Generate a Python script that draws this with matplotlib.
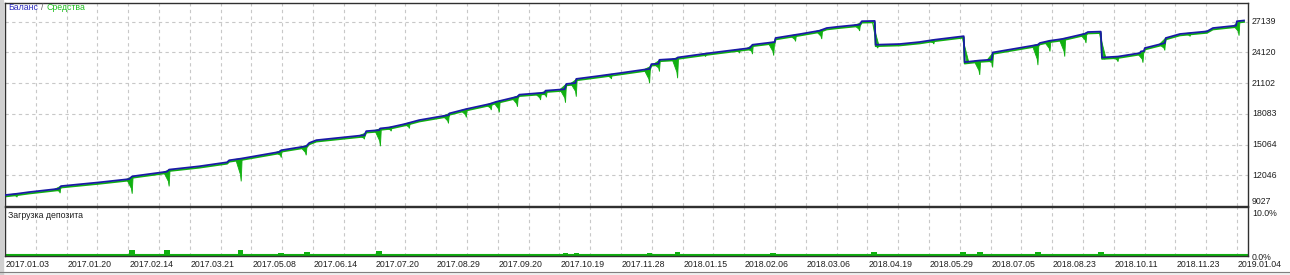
import numpy as np
import matplotlib
matplotlib.use('Agg')
import matplotlib.pyplot as plt
import matplotlib.transforms as mtransforms

plt.rcParams['font.family'] = ['Liberation Sans', 'DejaVu Sans']

# balance curve: trade number -> balance
bal_x = [0, 3.9, 7.8, 17.5, 18.2, 30.5, 40.3, 41.3, 52.6, 53.3, 63.0, 72.1, 72.8, 76.7,
         89.0, 89.7, 97.8, 98.8, 101.1, 116.7, 117.3, 121.5, 121.8, 124.8, 129.7, 134.5,
         144.0, 144.3, 149.8, 157.3, 159.6, 166.4, 167.0, 175.2, 175.5, 181.7, 182.3,
         185.2, 185.5, 193.0, 199.5, 209.3, 209.9, 212.2, 212.5, 218.0, 218.4, 228.8,
         241.8, 242.7, 249.9, 250.2, 258.0, 264.5, 266.8, 270.9, 277.5, 278.2, 282.4,
         282.7, 290.5, 297.0, 301.9, 311.3, 311.6, 316.5, 320.4, 320.7, 335.4, 336.0,
         339.3, 343.2, 350.7, 351.6, 355.8, 356.2, 361.4, 368.5, 368.8, 369.8, 370.1,
         376.6, 376.9, 381.5, 390.3, 392.2, 399.7, 400.0, 402.3]
bal_y = [10100, 10230, 10390, 10720, 10980, 11345, 11670, 11937, 12400, 12600, 12923, 13318,
         13515, 13683, 14333, 14500, 14897, 15220, 15490, 15982, 16376, 16475, 16640, 16740,
         17067, 17460, 17955, 18120, 18547, 19040, 19267, 19760, 19958, 20155, 20352, 20490,
         21013, 21100, 21506, 21802, 22070, 22493, 22957, 23000, 23380, 23480, 23610, 24042,
         24535, 24860, 25127, 25522, 25900, 26240, 26500, 26640, 26836, 27170, 27200,
         24860, 24930, 25127, 25353, 25700, 23153, 23315, 23400, 24100, 24860, 25028,
         25255, 25420, 25945, 26108, 26150, 23610, 23700, 24042, 24200, 24250, 24535,
         25028, 25522, 25916, 26173, 26500, 26737, 27170, 27240]

# equity drawdowns: position and lowest equity
dip_x = [3.9, 17.9, 41.3, 53.3, 76.7, 89.7, 97.8, 116.7, 121.9, 125.4, 131.3, 144.0, 149.8,
         157.9, 160.5, 166.4, 173.9, 175.8, 182.0, 185.5, 196.9, 209.3, 212.5, 218.4, 227.5,
         238.5, 242.7, 249.6, 256.7, 265.2, 277.5, 283.4, 301.6, 312.6, 316.5, 320.7, 335.4,
         339.3, 344.1, 351.0, 357.1, 361.4, 369.5, 376.6, 384.8, 390.3, 400.7]
dip_low = [9895, 10290, 10230, 10950, 11444, 13780, 14010, 15587, 14897, 16375, 16640, 17136,
           17728, 18448, 18220, 18773, 19435, 19700, 19168, 19760, 21500, 21082, 22230, 21574,
           23700, 24040, 23940, 23800, 25190, 25420, 26210, 24530, 24930, 23055, 21900, 22630,
           22860, 24200, 23700, 25028, 23450, 23200, 23100, 24300, 25680, 26015, 25750]

# deposit load, %
load_x = [4.2, 18.2, 41.3, 49.1, 52.6, 57.5, 76.4, 89.7, 98.1, 117.0, 121.5, 131.6, 144.0,
          149.8, 160.5, 166.7, 174.5, 182.0, 185.5, 209.3, 212.9, 218.4, 249.3, 282.1, 311.0,
          316.5, 320.7, 335.4, 344.1, 355.8, 369.5, 376.6, 401.0]
load_pct = [0.2, 0.2, 1.0, 0.2, 1.0, 0.2, 1.1, 0.3, 0.6, 0.2, 0.8, 0.2, 0.2, 0.2, 0.2, 0.2,
            0.2, 0.4, 0.5, 0.3, 0.2, 0.6, 0.3, 0.6, 0.6, 0.6, 0.2, 0.6, 0.2, 0.6, 0.2, 0.2, 0.2]

y_ticks = [9027, 12046, 15064, 18083, 21102, 24120, 27139]
date_labels = ['2017.01.03', '2017.01.20', '2017.02.14', '2017.03.21', '2017.05.08',
               '2017.06.14', '2017.07.20', '2017.08.29', '2017.09.20', '2017.10.19',
               '2017.11.28', '2018.01.15', '2018.02.06', '2018.03.06', '2018.04.19',
               '2018.05.29', '2018.07.05', '2018.08.23', '2018.10.11', '2018.11.23',
               '2019.01.04']

blue = '#1a1aa6'
green = '#10b010'
grid_c = '#c8c8c8'
frame_c = '#303030'
txt_c = '#202020'
fs = 6.3
W, H = 1290, 275

fig = plt.figure(figsize=(12.9, 2.75), dpi=100)
fig.patch.set_facecolor('white')

ax = fig.add_axes([5 / W, (H - 206) / H, 1243 / W, 203 / H])
ax2 = fig.add_axes([5 / W, (H - 255.5) / H, 1243 / W, 48.5 / H])

xmax = 403.6
for a in (ax, ax2):
    a.set_xlim(0, xmax)
    for k in range(1, 41):
        a.axvline(k * 10, color=grid_c, lw=0.8, ls=(0, (3, 3)), zorder=0)
    for s in a.spines.values():
        s.set_color(frame_c)
        s.set_linewidth(1.0)
    a.tick_params(length=0)

ax.set_ylim(9027, 28960)
for v in y_ticks[1:]:
    ax.axhline(v, color=grid_c, lw=0.8, ls=(0, (3, 3)), zorder=0)

# equity sits just under balance
off = mtransforms.offset_copy(ax.transData, fig=fig, x=0, y=-1.4, units='dots')
ax.plot(bal_x, bal_y, color=green, lw=1.3, transform=off, zorder=2)
for dx, lo in zip(dip_x, dip_low):
    x0, x1 = dx - 1.8, dx + 0.3
    px = [x0, dx - 0.25, dx, x1]
    py = [np.interp(x0, bal_x, bal_y), lo + (np.interp(dx, bal_x, bal_y) - lo) * 0.3, lo,
          np.interp(x1, bal_x, bal_y)]
    ax.fill(px, py, color=green, lw=0.6, zorder=2)
ax.plot(bal_x, bal_y, color=blue, lw=1.3, zorder=3)

ax.set_xticks([])
ax.set_yticks([])
ylab_tr = mtransforms.blended_transform_factory(ax.transAxes, ax.transData)
for v in y_ticks:
    ax.text(1.0032, v, str(v), transform=ylab_tr, fontsize=fs, color=txt_c,
            va='center' if v != y_ticks[0] else 'bottom', clip_on=False)

fig.text(8 / W, 1 - 8 / H, 'Баланс', color='#3030c0', fontsize=fs, va='center')
fig.text(41 / W, 1 - 8 / H, '/', color='#606060', fontsize=fs, va='center')
fig.text(46.5 / W, 1 - 8 / H, 'Средства', color='#20c020', fontsize=fs, va='center')

# deposit load panel
ax2.set_ylim(-0.12, 10)
ax2.axhline(0, color=green, lw=1.5, zorder=2)
ax2.bar(load_x, load_pct, width=1.8, color=green, zorder=2)
ax2.set_yticks([])
ax2.set_xticks([0.3 + 20 * i for i in range(len(date_labels))])
ax2.set_xticklabels(date_labels, fontsize=fs, ha='left', color=txt_c)
ax2.tick_params(axis='x', pad=3)
fig.text(8 / W, 1 - 215 / H, 'Загрузка депозита', color=txt_c, fontsize=fs, va='center')
fig.text(1252 / W, 1 - 214 / H, '10.0%', color=txt_c, fontsize=fs, va='center')
fig.text(1252 / W, 1 - 257 / H, '0.0%', color=txt_c, fontsize=fs, va='center')

# window frame remains
fig.patches.append(plt.Rectangle((0, 0), 1, 3 / H, transform=fig.transFigure,
                                 color='#f0f0f0', zorder=-1))
fig.add_artist(plt.Line2D([0, 1], [3 / H, 3 / H], color='#808080', lw=0.8))
fig.patches.append(plt.Rectangle((0, 0), 2.5 / W, 1, transform=fig.transFigure,
                                 color='#d0d0d0', zorder=-1))

fig.savefig('out.png', dpi=100)
